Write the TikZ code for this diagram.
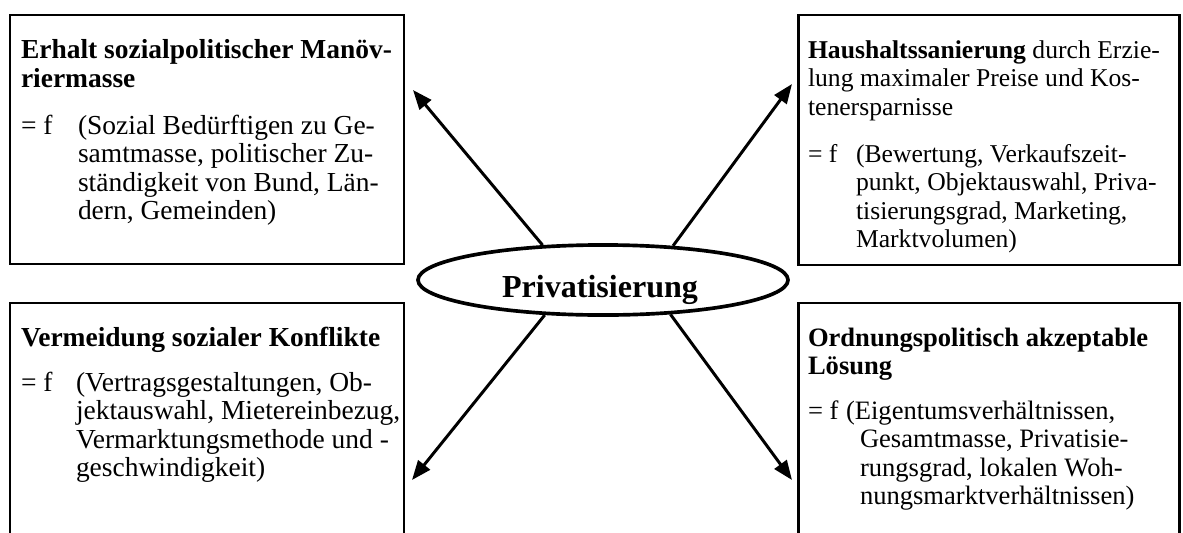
\documentclass[tikz,border=0pt]{standalone}
\usepackage{fontspec}
\setmainfont{Liberation Serif}
\usetikzlibrary{arrows.meta,shapes.geometric}
\begin{document}
\begin{tikzpicture}[x=0.4367pt,y=-0.4367pt,
  box/.style={draw,line width=1.3pt},
  ln/.style={anchor=base west,inner sep=0pt,outer sep=0pt,font=\fontsize{12}{14}\selectfont},
  hd/.style={ln,font=\fontsize{12}{14}\selectfont\bfseries},
  lnb/.style={anchor=base west,inner sep=0pt,outer sep=0pt,font=\fontsize{11.2}{13}\selectfont},
  lnc/.style={anchor=base west,inner sep=0pt,outer sep=0pt,font=\fontsize{11.6}{13}\selectfont},
  hdc/.style={lnc,font=\fontsize{11.6}{13}\selectfont\bfseries},
  ell/.style={draw,ellipse,line width=1.6pt,inner sep=0pt,minimum width=161.6pt,minimum height=30.6pt},
  arr/.style={line width=1.3pt,-{Triangle[length=8.5pt,width=6.5pt]}}]
\useasboundingbox (0,0) rectangle (1183,532);
\clip (0,0) rectangle (1183,532);
% boxes
\draw[box] (10,15) rectangle (404,264);
\draw[box] (798,15) rectangle (1179,265);
\draw[box] (10,303) rectangle (404,560);
\draw[box] (798,303) rectangle (1179,560);
% centre
\node[ell] (c) at (603,280) {};
\node[anchor=base,inner sep=0pt,font=\fontsize{14}{16}\selectfont\bfseries] (ct) at (600,297) {Privatisierung};
% top left text
\node[hd] (tl1) at (21,58) {Erhalt sozialpolitischer Manöv-};
\node[hd] (tl2) at (21,87) {riermasse};
\node[ln] (tl3) at (21,134) {= f};
\node[ln] (tl4) at (78,134) {(Sozial Bedürftigen zu Ge-};
\node[ln] (tl5) at (78,162.5) {samtmasse, politischer Zu-};
\node[ln] (tl6) at (78,191) {ständigkeit von Bund, Län-};
\node[ln] (tl7) at (78,219.5) {dern, Gemeinden)};
% top right text
\node[lnb] (tr1) at (808,58) {\textbf{Haushaltssanierung} durch Erzie-};
\node[lnb] (tr2) at (808,86.5) {lung maximaler Preise und Kos-};
\node[lnb] (tr3) at (808,115) {tenersparnisse};
\node[lnb] (tr4) at (808,162) {= f};
\node[lnb] (tr5) at (856,162) {(Bewertung, Verkaufszeit-};
\node[lnb] (tr6) at (856,190.5) {punkt, Objektauswahl, Priva-};
\node[lnb] (tr7) at (856,219) {tisierungsgrad, Marketing,};
\node[lnb] (tr8) at (856,247.5) {Marktvolumen)};
% bottom left text
\node[hd] (bl1) at (21,346) {Vermeidung sozialer Konflikte};
\node[ln] (bl2) at (21,391) {= f};
\node[ln] (bl3) at (76,391) {(Vertragsgestaltungen, Ob-};
\node[ln] (bl4) at (76,419.5) {jektauswahl, Mietereinbezug,};
\node[ln] (bl5) at (76,448) {Vermarktungsmethode und -};
\node[ln] (bl6) at (76,476.5) {geschwindigkeit)};
% bottom right text
\node[hdc] (br1) at (808,346) {Ordnungspolitisch akzeptable};
\node[hdc] (br2) at (808,374) {Lösung};
\node[lnc] (br3) at (808,419) {= f};
\node[lnc] (br4) at (846,419) {(Eigentumsverhältnissen,};
\node[lnc] (br5) at (860,447.5) {Gesamtmasse, Privatisie-};
\node[lnc] (br6) at (860,476) {rungsgrad, lokalen Woh-};
\node[lnc] (br7) at (860,504.5) {nungsmarktverhältnissen)};
% arrows
\coordinate (ptl) at (413,90);
\coordinate (ptr) at (792,84);
\coordinate (pbl) at (412,480);
\coordinate (pbr) at (792,480);
\draw[arr] (c.150) -- (ptl);
\draw[arr] (c.26) -- (ptr);
\draw[arr] (c.211) -- (pbl);
\draw[arr] (c.333) -- (pbr);
\end{tikzpicture}
\end{document}
